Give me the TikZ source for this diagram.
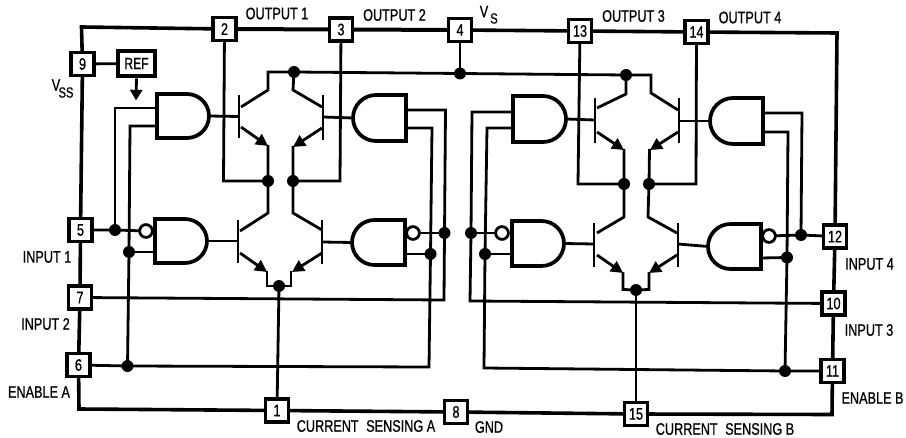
\documentclass[tikz,border=0pt]{standalone}
\usepackage{fontspec}
\setmainfont{Liberation Sans}[FakeStretch=0.76,FakeBold=0.8]
\usetikzlibrary{arrows.meta}
\pgfdeclarelayer{bg}
\pgfsetlayers{bg,main}
\tikzset{
  frameline/.style={line width=2.7pt,line join=miter},
  wire/.style={line width=2.1pt,line join=miter},
  bar/.style={line width=2.2pt},
  gate/.style={line width=2.8pt,line join=miter,fill=white},
  emit/.style={line width=2.1pt,-{Triangle[length=9pt,width=9pt]}},
  pin/.style={draw,line width=2.4pt,fill=white,minimum size=17.3pt,inner sep=0pt,font=\fontsize{12.5}{13}\selectfont},
  refbox/.style={draw,line width=3.2pt,fill=white,minimum width=28pt,minimum height=19pt,inner sep=0pt,font=\fontsize{12}{13}\selectfont},
  joint/.style={circle,fill=black,inner sep=0pt,minimum size=9pt},
  bubble/.style={circle,draw,line width=2.1pt,fill=white,inner sep=0pt,minimum size=9.6pt},
  lab/.style={inner sep=0pt,font=\fontsize{12.5}{13}\selectfont},
  sublab/.style={inner sep=0pt,font=\fontsize{11}{12}\selectfont},
}
% name, flat x, top y, bottom y, tip x
\newcommand{\gateR}[5]{%
  \pgfmathsetmacro{\gh}{(#4-#3)/2}\pgfmathsetmacro{\gm}{(#4+#3)/2}%
  \pgfmathsetmacro{\ga}{#5-\gh}\pgfmathsetmacro{\gc}{#5-0.45*\gh}%
  \pgfmathsetmacro{\gu}{\gm-0.55*\gh}\pgfmathsetmacro{\gv}{\gm+0.55*\gh}%
  \draw[gate] (#2,#3) -- (\ga,#3) .. controls (\gc,#3) and (#5,\gu) .. (#5,\gm)
     .. controls (#5,\gv) and (\gc,#4) .. (\ga,#4) -- (#2,#4) -- cycle;
  \coordinate (#1) at (#5,\gm);}
\newcommand{\gateL}[5]{%
  \pgfmathsetmacro{\gh}{(#4-#3)/2}\pgfmathsetmacro{\gm}{(#4+#3)/2}%
  \pgfmathsetmacro{\ga}{#5+\gh}\pgfmathsetmacro{\gc}{#5+0.45*\gh}%
  \pgfmathsetmacro{\gu}{\gm-0.55*\gh}\pgfmathsetmacro{\gv}{\gm+0.55*\gh}%
  \draw[gate] (#2,#3) -- (\ga,#3) .. controls (\gc,#3) and (#5,\gu) .. (#5,\gm)
     .. controls (#5,\gv) and (\gc,#4) .. (\ga,#4) -- (#2,#4) -- cycle;
  \coordinate (#1) at (#5,\gm);}
\begin{document}
\begin{tikzpicture}[x=0.75pt,y=-0.75pt]
\useasboundingbox (0,0) rectangle (906,438);
% pins
\node[pin] (p2) at (224.5,29) {2};
\node[pin] (p3) at (341,29.5) {3};
\node[pin] (p4) at (460,30) {4};
\node[pin] (p13) at (580,31) {13};
\node[pin] (p14) at (696.5,32) {14};
\node[pin] (p9) at (82.5,64) {9};
\node[pin] (p5) at (80.5,230) {5};
\node[pin] (p7) at (80,297.5) {7};
\node[pin] (p6) at (78.5,365) {6};
\node[pin] (p1) at (277,410.5) {1};
\node[pin] (p8) at (456,412) {8};
\node[pin] (p15) at (636,414) {15};
\node[pin] (p12) at (835,236.5) {12};
\node[pin] (p10) at (833.5,303.5) {10};
\node[pin] (p11) at (832.5,371) {11};
\node[refbox] (ref) at (136.5,63.5) {REF};
% joints
\node[joint] (jq1) at (294,72) {};
\node[joint] (jv) at (460,73.5) {};
\node[joint] (jq2) at (626,75) {};
\node[joint] (ja1) at (268,181) {};
\node[joint] (ja2) at (293,181) {};
\node[joint] (jb1) at (624,184) {};
\node[joint] (jb2) at (649,184) {};
\node[joint] (ja) at (279,286) {};
\node[joint] (jb) at (636,290) {};
\node[joint] (j5) at (115,230) {};
\node[joint] (jl) at (129,252) {};
\node[joint] (j6) at (127.5,366) {};
\node[joint] (jr) at (444.5,233) {};
\node[joint] (jm) at (430.5,254) {};
\node[joint] (k1) at (471,233) {};
\node[joint] (k2) at (485,254) {};
\node[joint] (k3) at (785,371) {};
\node[joint] (k4) at (787,257.5) {};
\node[joint] (k5) at (801,235) {};
% gates
\gateR{ga1}{157}{94}{138}{209}
\gateR{ga3}{155}{219}{263}{207}
\gateL{ga2}{406}{95}{141}{353}
\gateL{ga4}{405}{220}{265}{352}
\gateR{gb1}{513}{96}{142}{566}
\gateR{gb3}{512}{221}{266}{564}
\gateL{gb2}{763}{98}{144}{710}
\gateL{gb4}{761}{224}{269}{708}
\node[bubble] (ba3) at (146,231) {};
\node[bubble] (ba4) at (413,233) {};
\node[bubble] (bb3) at (502,233) {};
\node[bubble] (bb4) at (769,236) {};
\begin{pgfonlayer}{bg}
% frame
\coordinate (tl) at (81.5,27);
\coordinate (tr) at (837,33);
\coordinate (br) at (832,414.5);
\coordinate (bl) at (79,409);
\draw[frameline] (p9.center) -- (tl) -- (p2.center);
\draw[frameline,line width=3pt] (p2.center) -- (p3.center) -- (p4.center);
\draw[frameline] (p4.center) -- (p13.center) -- (p14.center);
\draw[frameline] (p14.center) -- (tr) -- (p12.center);
\draw[frameline] (p12.center) -- (p10.center) -- (p11.center);
\draw[frameline] (p11.center) -- (br) -- (p15.center);
\draw[frameline] (p15.center) -- (p8.center) -- (p1.center);
\draw[frameline] (p1.center) -- (bl) -- (p6.center);
\draw[frameline] (p6.center) -- (p7.center) -- (p5.center) -- (p9.center);
\draw[wire] (p9.center) -- (ref.center);
\draw[line width=2.1pt,-{Triangle[length=8pt,width=9pt]}] (ref.south) -- (136,100.5);
% supply rail
\draw[wire] (p4.center) -- (jv.center);
\draw[wire] (jq1.center) -- (jv.center) -- (jq2.center);
% left top pair
\draw[bar] (239,95) -- (239,138);
\draw[wire] (ga1) -- (239,116.5);
\draw[wire] (jq1.center) -- ++(-26,0) -- (268,90) -- (241,107);
\draw[emit] (241,127) -- (268,146);
\draw[wire] (268,145) -- (ja1.center) -- (268,213) -- (240,231);
\draw[bar] (323,95) -- (323,140);
\draw[wire] (ga2) -- (323,117);
\draw[wire] (jq1.center) -- (293,90) -- (322,107);
\draw[emit] (322,128) -- (293,147);
\draw[wire] (293,146) -- (ja2.center) -- (293,213) -- (322,230);
\draw[wire] (p2.center) -- (223.5,181) -- (ja1.center);
\draw[wire] (p3.center) -- (340,181) -- (ja2.center);
% left bottom pair
\draw[bar] (238,220) -- (238,263);
\draw[wire] (ga3) -- (238,241);
\draw[emit] (240,253) -- (267,272);
\draw[wire] (267,271) -- (267,286) -- (ja.center);
\draw[bar] (322,220) -- (322,264);
\draw[wire] (ga4) -- (322,242);
\draw[emit] (322,253) -- (292,272);
\draw[wire] (291,271) -- (291,286) -- (ja.center);
\draw[wire] (ja.center) -- (p1.center);
% left inputs
\draw[wire] (p5.center) -- (j5.center) -- (ba3.center);
\draw[wire] (j5.center) -- (115,108) -- (157,108);
\draw[wire] (157,126) -- (130,126) -- (jl.center) -- (j6.center);
\draw[wire] (jl.center) -- (155,252);
\draw[wire] (p6.center) -- (j6.center) -- (429,367) -- (jm.center) -- (432,128) -- (406,128);
\draw[wire] (jm.center) -- (405,254);
\draw[wire] (p7.center) -- (444,300) -- (jr.center) -- (445.5,110) -- (406,110);
\draw[wire] (jr.center) -- (ba4.center);
% right top pair
\draw[bar] (595,98) -- (595,143);
\draw[wire] (gb1) -- (595,120);
\draw[wire] (jq2.center) -- (626,94) -- (597,108);
\draw[emit] (597,132) -- (624,150);
\draw[wire] (624,149) -- (jb1.center) -- (624,217) -- (597,233);
\draw[bar] (679,98) -- (679,143);
\draw[wire] (gb2) -- (679,121);
\draw[wire] (jq2.center) -- (651,75) -- (651,93) -- (678,110);
\draw[emit] (678,132) -- (650,150);
\draw[wire] (649.5,149) -- (jb2.center) -- (648,217) -- (677,233);
\draw[wire] (p13.center) -- (578,184) -- (jb1.center);
\draw[wire] (p14.center) -- (696,184) -- (jb2.center);
% right bottom pair
\draw[bar] (594,223) -- (594,267);
\draw[wire] (gb3) -- (594,244);
\draw[emit] (597,255) -- (623,273);
\draw[wire] (623,272) -- (623,289.5) -- (jb.center);
\draw[bar] (678,223) -- (678,267);
\draw[wire] (gb4) -- (678,244);
\draw[emit] (677,255) -- (649,273);
\draw[wire] (649,272) -- (649,289.5) -- (jb.center);
\draw[wire] (jb.center) -- (p15.center);
% right inputs
\draw[wire] (513,112) -- (472,112) -- (k1.center) -- (470,301) -- (p10.center);
\draw[wire] (k1.center) -- (bb3.center);
\draw[wire] (513,128) -- (487,128) -- (k2.center) -- (484,368) -- (k3.center) -- (p11.center);
\draw[wire] (k2.center) -- (512,254);
\draw[wire] (763,113) -- (802,113) -- (k5.center);
\draw[wire] (bb4.center) -- (k5.center) -- (p12.center);
\draw[wire] (763,132) -- (788,132) -- (k4.center) -- (k3.center);
\draw[wire] (k4.center) -- (761,258);
\end{pgfonlayer}
% labels
\node[lab] (l1) at (277,13.5) {OUTPUT 1};
\node[lab] (l2) at (394.5,15) {OUTPUT 2};
\node[lab] (l3) at (633.5,16) {OUTPUT 3};
\node[lab] (l4) at (750,17.5) {OUTPUT 4};
\node[lab] (lvs) at (484,11.5) {V};
\node[sublab] (lvss) at (494,18.5) {S};
\node[lab] (lvd) at (56,85) {V};
\node[sublab] (lvdd) at (66,92.5) {SS};
\node[lab] (li1) at (47,257) {INPUT 1};
\node[lab] (li2) at (45.5,324) {INPUT 2};
\node[lab] (lea) at (39,392) {ENABLE A};
\node[lab] (lca) at (366,426) {CURRENT\hspace{3pt} SENSING A};
\node[lab] (lgnd) at (489,427) {GND};
\node[lab] (lcb) at (725,429) {CURRENT\hspace{3pt} SENSING B};
\node[lab] (leb) at (872.5,398) {ENABLE B};
\node[lab] (li3) at (869,330) {INPUT 3};
\node[lab] (li4) at (869.5,264) {INPUT 4};
\end{tikzpicture}
\end{document}
